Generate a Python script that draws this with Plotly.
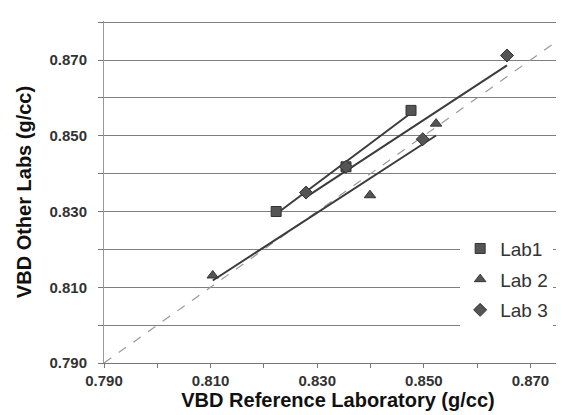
import numpy as np
import plotly.graph_objects as go

# Data
lab1_x = [0.8223, 0.8354, 0.8476]
lab1_y = [0.8300, 0.8418, 0.8567]
lab2_x = [0.8104, 0.8399, 0.8523]
lab2_y = [0.8131, 0.8343, 0.8532]
lab3_x = [0.8279, 0.8354, 0.8498, 0.8656]
lab3_y = [0.8350, 0.8418, 0.8491, 0.8712]
names = ["Lab1", "Lab 2", "Lab 3"]
symbols = ["square", "triangle-up", "diamond"]
identity = [0.790, 0.880]
tick_vals = [0.790, 0.810, 0.830, 0.850, 0.870]
tick_text = ["0.790", "0.810", "0.830", "0.850", "0.870"]

fig = go.Figure()

# identity (y = x) reference line
fig.add_trace(go.Scatter(x=identity, y=identity, mode="lines",
                         line=dict(color="#9a9a9a", width=1.2, dash="dash"),
                         showlegend=False, hoverinfo="skip"))

series = [(lab1_x, lab1_y), (lab2_x, lab2_y), (lab3_x, lab3_y)]
sizes = [10, 10, 10]
for (xs, ys), nm, sym, sz in zip(series, names, symbols, sizes):
    xa = np.array(xs)
    ya = np.array(ys)
    k, b = np.polyfit(xa, ya, 1)
    xl = np.array([xa.min(), xa.max()])
    fig.add_trace(go.Scatter(x=xl, y=k * xl + b, mode="lines",
                             line=dict(color="#3c3c3c", width=2),
                             showlegend=False, hoverinfo="skip"))
for (xs, ys), nm, sym, sz in zip(series, names, symbols, sizes):
    fig.add_trace(go.Scatter(x=xs, y=ys, mode="markers", name=nm,
                             legendgroup=nm,
                             marker=dict(symbol=sym, size=sz, color="#555555",
                                         line=dict(color="#333333", width=1))))

fam = "Liberation Sans, Arial, sans-serif"
tick_font = dict(family=fam, size=15, color="#333333", weight="bold")
title_font = dict(family=fam, size=20, color="#111111", weight="bold")

fig.update_layout(
    width=564, height=415,
    margin=dict(l=96, r=0, t=13, b=60),
    paper_bgcolor="white", plot_bgcolor="white",
    showlegend=True,
    legend=dict(x=0.761, y=0.39, xanchor="left", yanchor="top",
                bgcolor="white", borderwidth=0,
                font=dict(family=fam, size=19, color="#333333"),
                tracegroupgap=3),
    xaxis=dict(range=[0.790, 0.8778], tickvals=tick_vals, ticktext=tick_text,
               showgrid=False, zeroline=False,
               showline=True, linecolor="#777777", linewidth=1.2,
               ticks="outside", ticklen=4, tickcolor="#777777",
               minor=dict(dtick=0.01, tick0=0.79, ticks="outside", ticklen=4, tickcolor="#777777"),
               tickfont=tick_font,
               title=dict(text="VBD Reference Laboratory (g/cc)", font=title_font, standoff=4)),
    yaxis=dict(range=[0.790, 0.8803], tickvals=tick_vals, ticktext=tick_text,
               showgrid=True, gridcolor="#7f7f7f", gridwidth=1.4, zeroline=False,
               showline=True, linecolor="#999999", linewidth=1,
               ticks="outside", ticklen=5, tickcolor="#777777",
               ticklabelstandoff=8,
               minor=dict(dtick=0.01, tick0=0.79, showgrid=True, gridcolor="#7f7f7f", gridwidth=1.4,
                          ticks="outside", ticklen=5, tickcolor="#777777"),
               tickfont=tick_font,
               title=dict(text="VBD Other Labs (g/cc)", font=title_font, standoff=12)),
)

fig.write_html("out.html")
